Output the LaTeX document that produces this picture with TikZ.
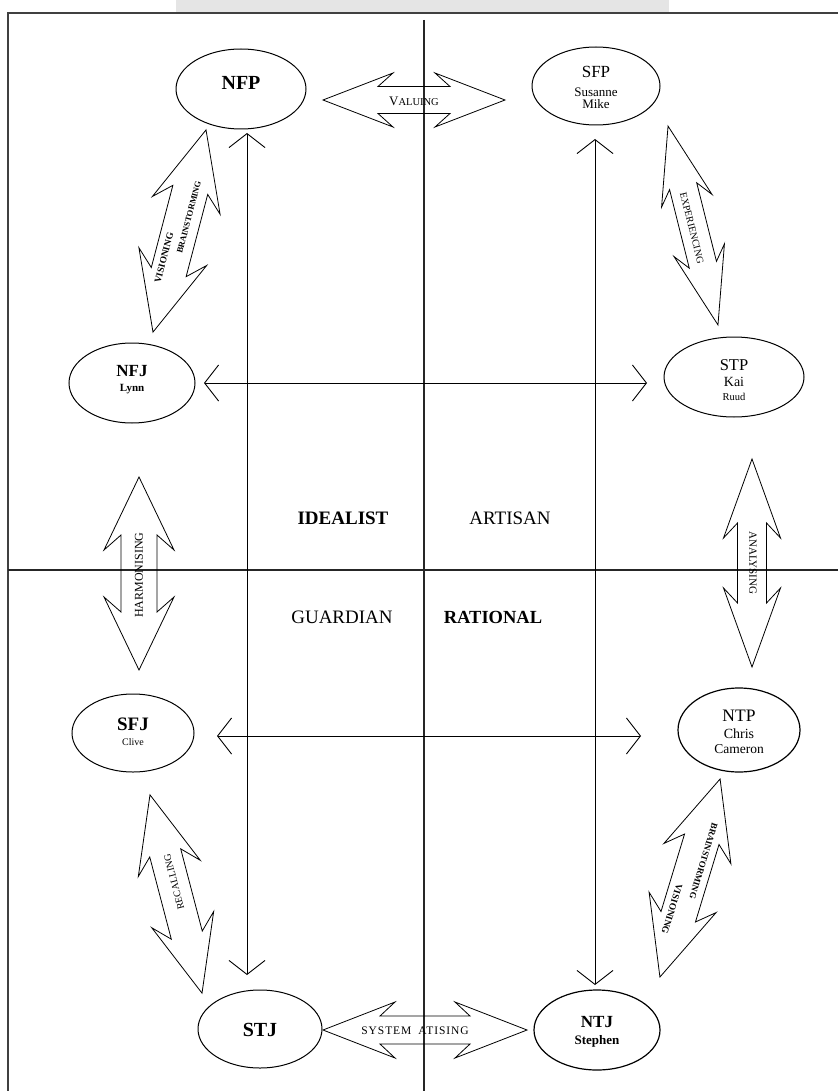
\documentclass[tikz,border=0pt]{standalone}
\usepackage{fontspec}
\setmainfont{Liberation Serif}
\usetikzlibrary{arrows.meta,shapes.geometric}
\tikzset{
  quad/.style={line width=1.2pt, draw=black!85},
  ell/.style={ellipse, draw, line width=1pt, inner sep=0pt},
  txt/.style={inner sep=0pt, anchor=base},
  thinarr/.style={line width=0.9pt, {Straight Barb[length=14pt,width=36pt]}-{Straight Barb[length=14pt,width=36pt]}},
  blk/.style={draw, line width=0.8pt, line join=miter},
  blklab/.style={inner sep=0pt},
  quadlab/.style={font=\fontsize{19}{20}\selectfont, inner sep=0pt}
}
\newcommand{\blockarr}[8]{% cx, cy, angle, L, hb, hj, w, s
  \begin{scope}[shift={(#1,#2)}, rotate=#3]
    \draw[blk] (-#4/2,0) -- (-#4/2+#5,#7) -- (-#4/2+#6,#8) -- (#4/2-#6,#8) -- (#4/2-#5,#7) -- (#4/2,0)
      -- (#4/2-#5,-#7) -- (#4/2-#6,-#8) -- (-#4/2+#6,-#8) -- (-#4/2+#5,-#7) -- cycle;
  \end{scope}}
\newcommand{\fs}[1]{\fontsize{#1}{#1}\selectfont}
\begin{document}
\begin{tikzpicture}[x=1pt,y=-1pt]
\useasboundingbox (0,0) rectangle (838,1091);
% top grey bar
\fill[black!10] (176,0) rectangle (669,12);
% frame
\draw[line width=1.2pt, draw=black!75] (8,1091) -- (8,13) -- (838,13);
% quadrant lines
\draw[quad] (424,20) -- (424,1091);
\draw[quad] (8,570) -- (838,570);

% ellipses
\node[ell, minimum width=130pt, minimum height=80pt] (NFP) at (241,89) {};
\node[txt, font=\fs{20}\bfseries] (NFPa) at (241,90) {NFP};

\node[ell, minimum width=128pt, minimum height=78pt] (SFP) at (596,86) {};
\node[txt, font=\fs{17}] (SFPa) at (596,78) {SFP};
\node[txt, font=\fs{13}] (SFPb) at (596,97) {Susanne};
\node[txt, font=\fs{13}] (SFPc) at (596,109) {Mike};

\node[ell, minimum width=126pt, minimum height=80pt] (NFJ) at (132,383) {};
\node[txt, font=\fs{17}\bfseries] (NFJa) at (132,376) {NFJ};
\node[txt, font=\fs{11}\bfseries] (NFJb) at (132,391) {Lynn};

\node[ell, minimum width=140pt, minimum height=80pt] (STP) at (734,377) {};
\node[txt, font=\fs{16.5}] (STPa) at (734,370) {STP};
\node[txt, font=\fs{14}] (STPb) at (734,386) {Kai};
\node[txt, font=\fs{10.5}] (STPc) at (734,400) {Ruud};

\node[ell, minimum width=122pt, minimum height=78pt] (SFJ) at (133,733) {};
\node[txt, font=\fs{19}\bfseries] (SFJa) at (133,730) {SFJ};
\node[txt, font=\fs{10}] (SFJb) at (133,745) {Clive};

\node[ell, minimum width=122pt, minimum height=84pt, line width=1.2pt] (NTP) at (739,730) {};
\node[txt, font=\fs{17.5}] (NTPa) at (739,721) {NTP};
\node[txt, font=\fs{14}] (NTPb) at (739,738) {Chris};
\node[txt, font=\fs{13.5}] (NTPc) at (739,753) {Cameron};

\node[ell, minimum width=124pt, minimum height=78pt] (STJ) at (260,1029) {};
\node[txt, font=\fs{20}\bfseries] (STJa) at (260,1036) {STJ};

\node[ell, minimum width=126pt, minimum height=80pt, line width=1.2pt] (NTJ) at (597,1030) {};
\node[txt, font=\fs{17}\bfseries] (NTJa) at (597,1027) {NTJ};
\node[txt, font=\fs{13}\bfseries] (NTJb) at (597,1044) {Stephen};

% quadrant labels
\node[quadlab, font=\fs{19}\bfseries] (ide) at (343,518) {IDEALIST};
\node[quadlab] (art) at (510,518) {ARTISAN};
\node[quadlab] (gua) at (342,617) {GUARDIAN};
\node[quadlab, font=\fs{18.5}\bfseries] (rat) at (493,617) {RATIONAL};

% thin double arrows
\coordinate (v1a) at (247,133); \coordinate (v1b) at (247,975);
\coordinate (v2a) at (595,139); \coordinate (v2b) at (595,985);
\coordinate (h1a) at (204,383); \coordinate (h1b) at (647,383);
\coordinate (h2a) at (217,736); \coordinate (h2b) at (641,736);
\draw[thinarr] (v1a) -- (v1b);
\draw[thinarr] (v2a) -- (v2b);
\draw[thinarr] (h1a) -- (h1b);
\draw[thinarr] (h2a) -- (h2b);

% block double arrows
\blockarr{414}{100}{0}{182}{70}{55}{27}{13.5}
\node[blklab] (lval) at (414,101) {\fs{13}V\fs{10.5}ALUING};

\blockarr{179.5}{231}{75.3}{209}{78}{62}{35}{18}
\node[blklab, rotate=75.3, font=\fs{9.5}\bfseries] (lvis) at (164,258) {VISIONING};
\node[blklab, rotate=75.3, font=\fs{8.5}\bfseries] (lbrl) at (189,217) {BRAINSTORMING};

\blockarr{693}{225.5}{104.1}{205}{77}{62}{26}{14}
\node[blklab, rotate=-75.9, font=\fs{10}] (lexp) at (692,228) {EXPERIENCING};

\blockarr{139}{573.5}{90}{193}{73}{58}{35}{18}
\node[blklab, rotate=90, font=\fs{12}] (lhar) at (139,575) {HARMONISING};

\blockarr{752}{563}{90}{208}{79}{64}{28.5}{14.5}
\node[blklab, rotate=-90, font=\fs{11}] (lana) at (753,563) {ANALYSING};

\blockarr{176}{894}{104.7}{205}{76}{60}{32}{16}
\node[blklab, rotate=104.7, font=\fs{10}] (lrec) at (174,882) {RECALLING};

\blockarr{690}{878}{73.1}{207}{78}{63}{35}{18}
\node[blklab, rotate=-106.9, font=\fs{9}\bfseries] (lbrr) at (703.5,861) {BRAINSTORMING};
\node[blklab, rotate=-106.9, font=\fs{9.5}\bfseries] (lvisr) at (672,909) {VISIONING};

\blockarr{425}{1030}{0}{204}{72}{57}{28}{14}
\node[blklab, font=\fs{11.5}\addfontfeature{LetterSpace=8}] (lsys) at (415,1031) {SYSTEM\hspace{7pt}ATISING};
\end{tikzpicture}
\end{document}
